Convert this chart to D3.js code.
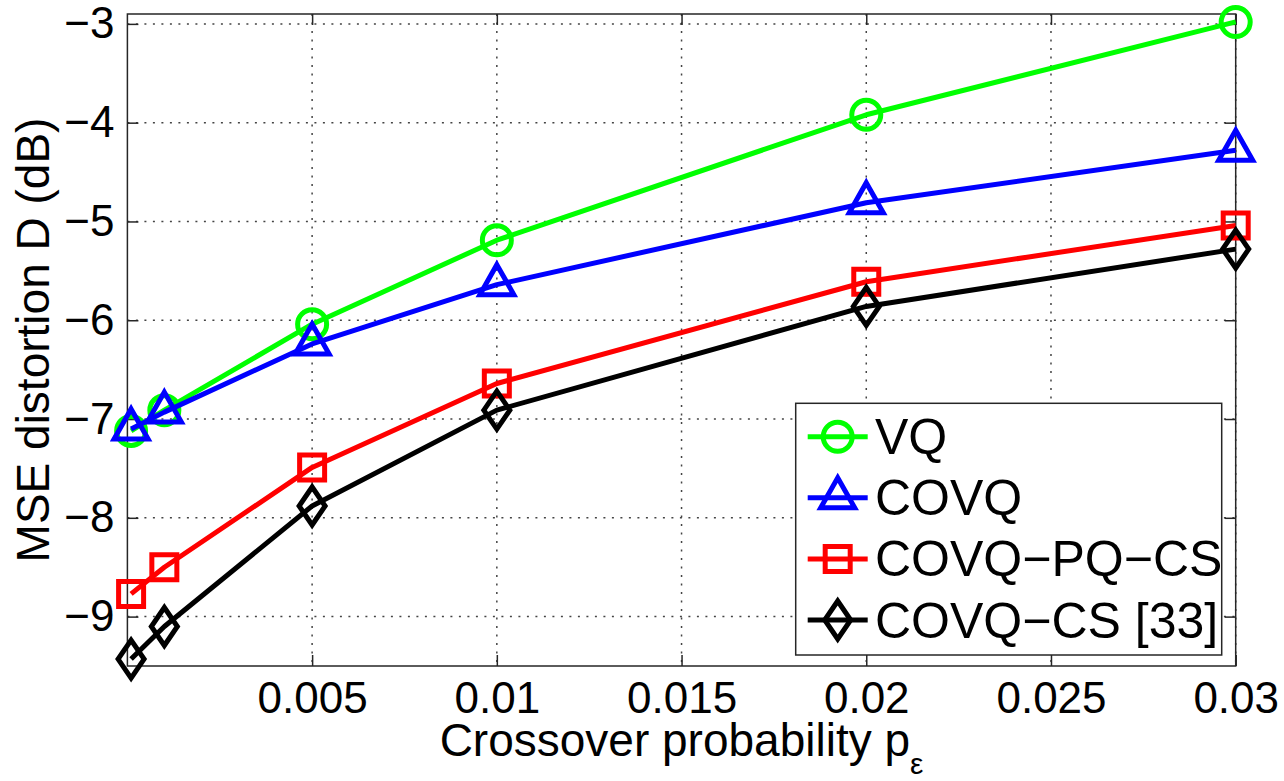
<!DOCTYPE html>
<html>
<head>
<meta charset="utf-8">
<script src="https://cdn.jsdelivr.net/npm/d3@7"></script>
<style>
  html, body { margin: 0; padding: 0; background: #fff; }
  svg text { font-family: "Liberation Sans", Arial, Helvetica, sans-serif; fill: #000; }
</style>
</head>
<body>
<div id="chart"></div>
<script>
// valeurs
const crossoverProb = [0.0001, 0.001, 0.005, 0.01, 0.02, 0.03];
const vq       = [-7.12, -6.91, -6.04, -5.19, -3.92, -2.98];
const covq     = [-7.10, -6.93, -6.24, -5.64, -4.81, -4.28];
const covqPqCs = [-8.77, -8.50, -7.49, -6.64, -5.61, -5.04];
const covqCs   = [-9.43, -9.10, -7.88, -6.91, -5.86, -5.28];

const seriesNames  = ["VQ", "COVQ", "COVQ\u2212PQ\u2212CS", "COVQ\u2212CS [33]"];
const seriesColors = ["#00ff00", "#0000ff", "#ff0000", "#000000"];
const seriesShapes = ["circle", "triangle", "square", "diamond"];

const xTicks = [0.005, 0.01, 0.015, 0.02, 0.025, 0.03];
const yTicks = [-3, -4, -5, -6, -7, -8, -9];
const xDomain = [0, 0.03];
const yDomain = [-9.5, -2.9];

const W = 1284, H = 781;
const box = { left: 127.4, right: 1235.7, top: 14, bottom: 666 };

const svg = d3.select("#chart").append("svg")
  .attr("width", W)
  .attr("height", H);

const x = d3.scaleLinear().domain(xDomain).range([box.left, box.right]);
const y = d3.scaleLinear().domain(yDomain).range([box.bottom, box.top]);

// grille pointillée
const grid = svg.append("g")
  .attr("stroke", "#444")
  .attr("stroke-width", 1.5)
  .attr("stroke-dasharray", "2,6.5");

grid.selectAll("line.v")
  .data(xTicks)
  .enter().append("line")
  .attr("x1", d => x(d)).attr("x2", d => x(d))
  .attr("y1", box.top).attr("y2", box.bottom);

grid.selectAll("line.h")
  .data(yTicks)
  .enter().append("line")
  .attr("x1", box.left).attr("x2", box.right)
  .attr("y1", d => y(d)).attr("y2", d => y(d));

// axes, graduations vers l'intérieur
function styleAxis(g) {
  g.select(".domain").remove();
  g.selectAll(".tick line").attr("stroke", "#262626").attr("stroke-width", 1.5);
  g.selectAll(".tick text")
    .attr("font-size", "44px")
    .attr("font-family", "Liberation Sans, Arial, sans-serif")
    .attr("fill", "#000");
}

svg.append("g")
  .attr("transform", `translate(0,${box.bottom})`)
  .call(d3.axisBottom(x).tickValues(xTicks).tickSize(-11).tickPadding(16).tickFormat(d3.format("")))
  .call(styleAxis);

svg.append("g")
  .attr("transform", `translate(0,${box.top})`)
  .call(d3.axisTop(x).tickValues(xTicks).tickSize(-11).tickFormat(""))
  .call(styleAxis);

svg.append("g")
  .attr("transform", `translate(${box.left},0)`)
  .call(d3.axisLeft(y).tickValues(yTicks).tickSize(-11).tickPadding(13).tickFormat(d3.format("d")))
  .call(styleAxis);

svg.append("g")
  .attr("transform", `translate(${box.right},0)`)
  .call(d3.axisRight(y).tickValues(yTicks).tickSize(-11).tickFormat(""))
  .call(styleAxis);

svg.append("rect")
  .attr("x", box.left).attr("y", box.top)
  .attr("width", box.right - box.left)
  .attr("height", box.bottom - box.top)
  .attr("fill", "none")
  .attr("stroke", "#262626")
  .attr("stroke-width", 1.5);

// formes des marqueurs
function markerPath(shape) {
  if (shape === "triangle") return "M0,-20L17,10L-17,10Z";
  if (shape === "square") return "M-12.5,-12.5H12.5V12.5H-12.5Z";
  if (shape === "diamond") return "M0,-19L13,0L0,19L-13,0Z";
  return "";
}

function drawMarker(g, shape, color, cx, cy) {
  if (shape === "circle") {
    g.append("circle")
      .attr("cx", cx).attr("cy", cy).attr("r", 14.5)
      .attr("fill", "none").attr("stroke", color).attr("stroke-width", 5);
  } else {
    g.append("path")
      .attr("d", markerPath(shape))
      .attr("transform", `translate(${cx},${cy})`)
      .attr("fill", "none").attr("stroke", color)
      .attr("stroke-width", 5).attr("stroke-linejoin", "miter");
  }
}

// courbes
const allSeries = [vq, covq, covqPqCs, covqCs];
const line = d3.line()
  .x(d => x(d[0]))
  .y(d => y(d[1]));

allSeries.forEach((values, i) => {
  const pts = crossoverProb.map((p, j) => [p, values[j]]);
  const g = svg.append("g");
  g.append("path")
    .datum(pts)
    .attr("d", line)
    .attr("fill", "none")
    .attr("stroke", seriesColors[i])
    .attr("stroke-width", 5)
    .attr("stroke-linejoin", "round");
  pts.forEach(p => drawMarker(g, seriesShapes[i], seriesColors[i], x(p[0]), y(p[1])));
});

// légende
const legend = svg.append("g");
legend.append("rect")
  .attr("x", 795.7).attr("y", 403.3)
  .attr("width", 426).attr("height", 251.7)
  .attr("fill", "#fff")
  .attr("stroke", "#262626")
  .attr("stroke-width", 1.5);

seriesNames.forEach((name, i) => {
  const cy = 436.7 + i * 61.1;
  legend.append("line")
    .attr("x1", 807.7).attr("x2", 867.7)
    .attr("y1", cy).attr("y2", cy)
    .attr("stroke", seriesColors[i])
    .attr("stroke-width", 5);
  drawMarker(legend, seriesShapes[i], seriesColors[i], 837.7, cy);
  legend.append("text")
    .attr("x", 875)
    .attr("y", cy + 17.5)
    .attr("font-size", "50px")
    .text(name);
});

// titres des axes
const xLabel = svg.append("text")
  .attr("x", (box.left + box.right) / 2)
  .attr("y", 756)
  .attr("text-anchor", "middle")
  .attr("font-size", "46px");
xLabel.append("tspan").text("Crossover probability p");
xLabel.append("tspan")
  .attr("dy", 18)
  .attr("font-size", "30px")
  .text("\u03b5");

svg.append("text")
  .attr("transform", `translate(49,${(box.top + box.bottom) / 2}) rotate(-90)`)
  .attr("text-anchor", "middle")
  .attr("font-size", "46px")
  .text("MSE distortion D (dB)");
</script>
</body>
</html>
